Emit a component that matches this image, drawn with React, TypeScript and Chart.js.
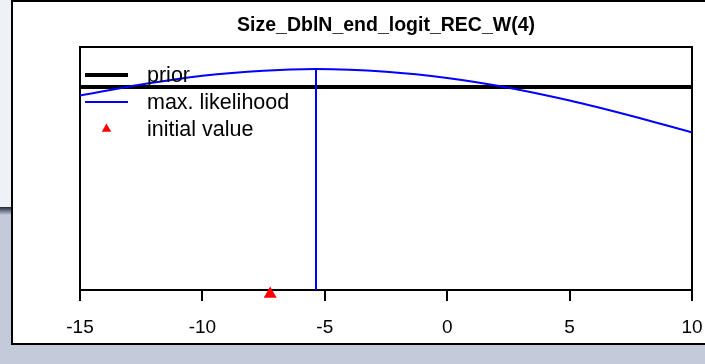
import { useEffect, useRef } from 'react';
import { Chart, registerables } from 'chart.js';

Chart.register(...registerables);

// Profile of the parameter: prior, likelihood curve, estimate and initial value
const chartTitle = 'Size_DblN_end_logit_REC_W(4)';
const xTicks = [-15, -10, -5, 0, 5, 10];
const likelihoodX = [-15, -12.5, -10, -7.5, -5.36, -2.5, 0, 2.5, 5, 7.5, 10];
const likelihoodY = [0.88, 0.93, 0.97, 0.993, 1.0, 0.988, 0.96, 0.916, 0.858, 0.789, 0.713];
const priorX = [-15, 10];
const priorY = [0.919, 0.919];
const mleX = -5.36;
const mleY = 1.0;
const initialX = -7.23;
const initialY = -0.018;
const legendLabels = ['prior', 'max. likelihood', 'initial value'];

const FONT = '"Liberation Sans", Arial, sans-serif';

const plotBox = {
  id: 'plotBox',
  beforeDatasetsDraw(chart: any) {
    const { ctx, chartArea: a } = chart;
    ctx.save();
    ctx.strokeStyle = '#000';
    ctx.lineWidth = 2;
    ctx.strokeRect(a.left, a.top, a.right - a.left, a.bottom - a.top);
    ctx.restore();
  },
};

const rLegend = {
  id: 'rLegend',
  afterDraw(chart: any) {
    const { ctx, chartArea: a } = chart;
    const x0 = a.left + 5;
    const x1 = a.left + 48;
    const tx = a.left + 67;
    const rows = [a.top + 28, a.top + 55, a.top + 82];
    ctx.save();
    // prior sample
    ctx.strokeStyle = '#000';
    ctx.lineWidth = 4;
    ctx.beginPath();
    ctx.moveTo(x0, rows[0]);
    ctx.lineTo(x1, rows[0]);
    ctx.stroke();
    // likelihood sample
    ctx.strokeStyle = '#0000ff';
    ctx.lineWidth = 2;
    ctx.beginPath();
    ctx.moveTo(x0, rows[1]);
    ctx.lineTo(x1, rows[1]);
    ctx.stroke();
    // initial value marker
    const cx = (x0 + x1) / 2;
    const r = 5.5;
    ctx.fillStyle = '#ff0000';
    ctx.beginPath();
    ctx.moveTo(cx, rows[2] - r);
    ctx.lineTo(cx + r * 0.866, rows[2] + r / 2);
    ctx.lineTo(cx - r * 0.866, rows[2] + r / 2);
    ctx.closePath();
    ctx.fill();
    // labels
    ctx.fillStyle = '#000';
    ctx.font = `21.5px ${FONT}`;
    ctx.textBaseline = 'middle';
    ctx.textAlign = 'left';
    legendLabels.forEach((t, i) => ctx.fillText(t, tx, rows[i] + 1));
    ctx.restore();
  },
};

export default function App() {
  const canvasRef = useRef<HTMLCanvasElement | null>(null);

  useEffect(() => {
    const canvas = canvasRef.current;
    if (!canvas) return;
    const chart = new Chart(canvas, {
      type: 'line',
      data: {
        datasets: [
          {
            label: 'initial value',
            data: [{ x: initialX, y: initialY }],
            showLine: false,
            pointStyle: 'triangle',
            pointRadius: 7.5,
            pointBackgroundColor: '#ff0000',
            pointBorderColor: '#ff0000',
            pointBorderWidth: 0,
            clip: false,
          },
          {
            label: 'max. likelihood',
            data: likelihoodX.map((x, i) => ({ x, y: likelihoodY[i] })),
            borderColor: '#0000ff',
            borderWidth: 2,
            pointRadius: 0,
            cubicInterpolationMode: 'monotone',
            fill: false,
          },
          {
            label: 'MLE',
            data: [
              { x: mleX, y: 0 },
              { x: mleX, y: mleY },
            ],
            borderColor: '#0000ff',
            borderWidth: 2,
            pointRadius: 0,
            fill: false,
          },
          {
            label: 'prior',
            data: priorX.map((x, i) => ({ x, y: priorY[i] })),
            borderColor: '#000',
            borderWidth: 4,
            pointRadius: 0,
            fill: false,
          },
        ],
      },
      options: {
        animation: false,
        responsive: false,
        events: [],
        layout: { padding: { left: 80, right: 13, top: 0, bottom: 0 } },
        plugins: {
          legend: { display: false },
          tooltip: { enabled: false },
          title: {
            display: true,
            text: chartTitle,
            color: '#000',
            font: { family: FONT, size: 19.5, weight: 'bold', lineHeight: 1.2 },
            padding: { top: 14, bottom: 9.6 },
          },
        },
        scales: {
          x: {
            type: 'linear',
            min: -15,
            max: 10,
            afterBuildTicks: (s: any) => {
              s.ticks = xTicks.map((v) => ({ value: v }));
            },
            afterFit: (s: any) => {
              s.height = 74;
              s.paddingLeft = 0;
              s.paddingRight = 0;
            },
            ticks: {
              color: '#000',
              font: { family: FONT, size: 19 },
              padding: 15,
              maxRotation: 0,
              autoSkip: false,
              callback: (v: any) => String(v),
            },
            grid: {
              display: true,
              drawOnChartArea: false,
              drawTicks: true,
              tickLength: 11,
              color: '#000',
              lineWidth: 2,
            },
            border: { display: true, color: '#000', width: 2 },
          },
          y: { type: 'linear', display: false, min: 0, max: 1.1 },
        },
      },
      plugins: [plotBox, rLegend],
    } as any);
    return () => chart.destroy();
  }, []);

  return (
    <div style={{ position: 'fixed', left: 0, top: 0, width: 705, height: 364, overflow: 'hidden', background: '#c5cadb' }}>
      <div style={{ position: 'absolute', left: 0, top: 0, width: 12, height: 207, background: '#eef1f5' }} />
      <div
        style={{
          position: 'absolute',
          left: 0,
          top: 207,
          width: 12,
          height: 8,
          background: 'linear-gradient(#1e2535, #5a6276 35%, #c5cadb)',
        }}
      />
      <div
        style={{
          position: 'absolute',
          left: 11,
          top: 0,
          width: 700,
          height: 345,
          boxSizing: 'border-box',
          background: '#fff',
          border: '2px solid #000',
        }}
      />
      <canvas
        ref={canvasRef}
        width={705}
        height={364}
        style={{ position: 'absolute', left: 0, top: 0, display: 'block' }}
      />
    </div>
  );
}
